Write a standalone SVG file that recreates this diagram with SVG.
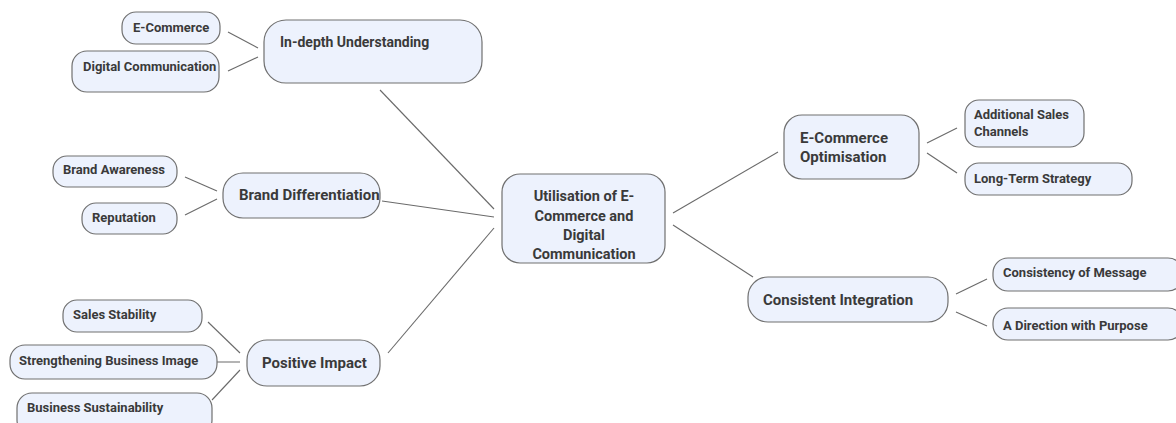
<svg xmlns="http://www.w3.org/2000/svg" width="1176" height="423" viewBox="0 0 1176 423">
<style>
.n{fill:#edf2fd;stroke:#707070;stroke-width:1.2}
.t{font-family:Roboto,"Liberation Sans",sans-serif;font-weight:700;fill:#3a3a3a}
.s{font-size:13px}
.m{font-size:15px}
.c{stroke:#6a6a6a;stroke-width:1.1;fill:none}
</style>
<rect width="1176" height="423" fill="#ffffff"/>
<g id="connectors">
<line class="c" x1="228" y1="32" x2="258" y2="48"/>
<line class="c" x1="228" y1="71" x2="258" y2="57"/>
<line class="c" x1="380" y1="90" x2="494" y2="209"/>
<line class="c" x1="185" y1="177" x2="217" y2="191"/>
<line class="c" x1="185" y1="215" x2="217" y2="199"/>
<line class="c" x1="382" y1="201" x2="494" y2="217"/>
<line class="c" x1="208" y1="322" x2="240" y2="353"/>
<line class="c" x1="205" y1="362" x2="240" y2="362"/>
<line class="c" x1="212" y1="400" x2="240" y2="370"/>
<line class="c" x1="388" y1="353" x2="494" y2="228"/>
<line class="c" x1="673" y1="213" x2="778" y2="152"/>
<line class="c" x1="673" y1="225" x2="753" y2="277"/>
<line class="c" x1="927" y1="143" x2="957" y2="128"/>
<line class="c" x1="927" y1="153" x2="957" y2="173"/>
<line class="c" x1="956" y1="294" x2="987" y2="279"/>
<line class="c" x1="956" y1="312" x2="987" y2="326"/>
</g>
<g id="center">
<rect class="n" x="502" y="174" width="163" height="89" rx="18"/>
<text class="t" font-size="14.5" text-anchor="middle" x="584"><tspan x="584" y="201">Utilisation of E-</tspan><tspan x="584" y="221">Commerce and</tspan><tspan x="584" y="240">Digital</tspan><tspan x="584" y="259">Communication</tspan></text>
</g>
<g id="in-depth">
<rect class="n" x="264" y="20" width="218" height="63" rx="22"/>
<text class="t" font-size="14" x="280" y="47">In-depth Understanding</text>
</g>
<g id="e-commerce">
<rect class="n" x="122" y="12" width="98" height="32" rx="14"/>
<text class="t s" x="133" y="32">E-Commerce</text>
</g>
<g id="digital-communication">
<rect class="n" x="72" y="51" width="147" height="41" rx="15"/>
<text class="t s" x="83" y="71">Digital Communication</text>
</g>
<g id="brand-differentiation">
<rect class="n" x="223" y="173" width="157" height="45" rx="20"/>
<text class="t m" x="239" y="200">Brand Differentiation</text>
</g>
<g id="brand-awareness">
<rect class="n" x="53" y="156" width="124" height="31" rx="14"/>
<text class="t s" x="63" y="174">Brand Awareness</text>
</g>
<g id="reputation">
<rect class="n" x="82" y="203" width="95" height="31" rx="14"/>
<text class="t s" x="92" y="222">Reputation</text>
</g>
<g id="positive-impact">
<rect class="n" x="247" y="340" width="133" height="46" rx="20"/>
<text class="t m" x="262" y="368">Positive Impact</text>
</g>
<g id="sales-stability">
<rect class="n" x="63" y="300" width="139" height="32" rx="14"/>
<text class="t s" x="73" y="319">Sales Stability</text>
</g>
<g id="strengthening">
<rect class="n" x="10" y="345" width="207" height="34" rx="15"/>
<text class="t s" x="19" y="365">Strengthening Business Image</text>
</g>
<g id="sustainability">
<rect class="n" x="17" y="393" width="195" height="42" rx="15"/>
<text class="t s" x="27" y="412">Business Sustainability</text>
</g>
<g id="ecommerce-optimisation">
<rect class="n" x="784" y="115" width="135" height="64" rx="18"/>
<text class="t" font-size="15" font-weight="500" x="800"><tspan x="800" y="143">E-Commerce</tspan><tspan x="800" y="162">Optimisation</tspan></text>
</g>
<g id="additional-sales">
<rect class="n" x="965" y="100" width="119" height="47" rx="14"/>
<text class="t s"><tspan x="974" y="119">Additional Sales</tspan><tspan x="974" y="136">Channels</tspan></text>
</g>
<g id="long-term">
<rect class="n" x="965" y="163" width="167" height="32" rx="14"/>
<text class="t s" x="974" y="183">Long-Term Strategy</text>
</g>
<g id="consistent-integration">
<rect class="n" x="748" y="277" width="200" height="45" rx="20"/>
<text class="t m" x="763" y="305">Consistent Integration</text>
</g>
<g id="consistency-message">
<rect class="n" x="993" y="258" width="190" height="33" rx="15"/>
<text class="t s" x="1003" y="277">Consistency of Message</text>
</g>
<g id="direction-purpose">
<rect class="n" x="993" y="308" width="190" height="32" rx="15"/>
<text class="t s" x="1003" y="330">A Direction with Purpose</text>
</g>
</svg>
